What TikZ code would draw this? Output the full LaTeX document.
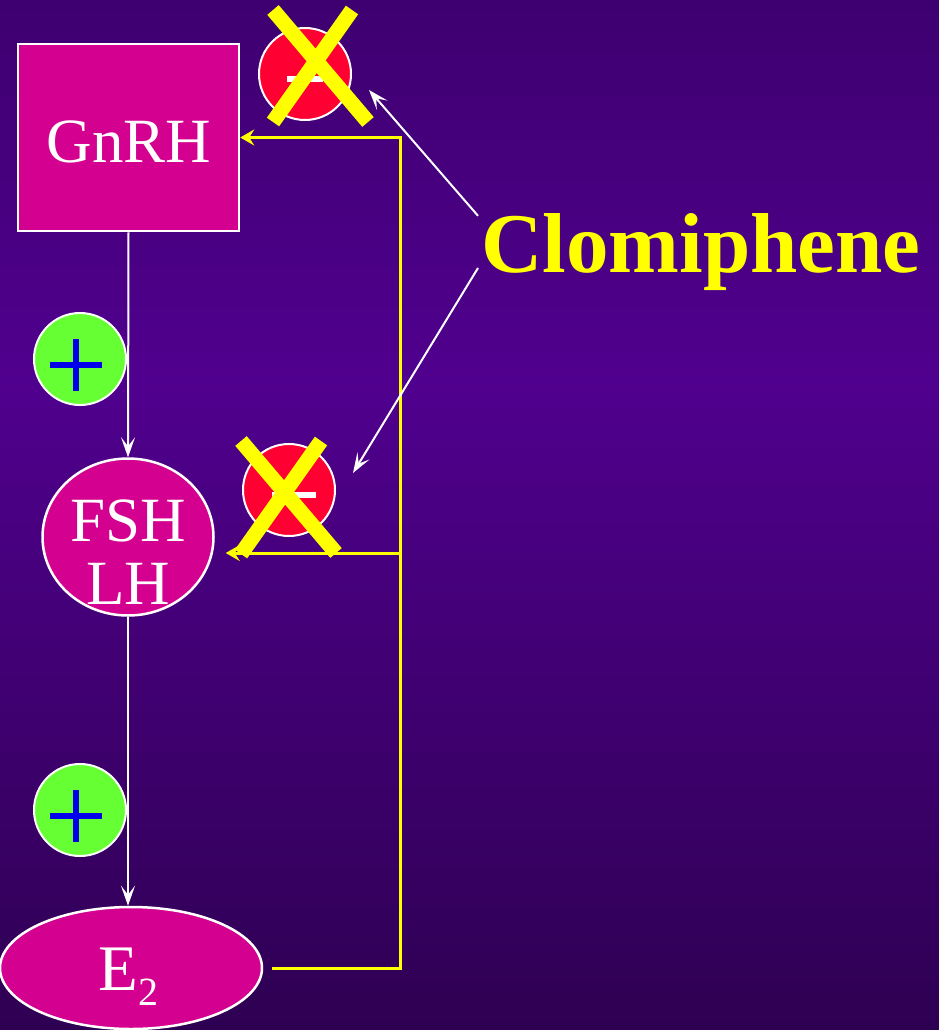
\documentclass[tikz,border=0pt]{standalone}
\usepackage{fontspec}
\setmainfont{Liberation Serif}
\usetikzlibrary{shapes.geometric,arrows.meta}
\definecolor{bgtop}{RGB}{62,0,112}
\definecolor{bgmid}{RGB}{80,0,142}
\definecolor{bgbot}{RGB}{46,0,82}
\definecolor{hormone}{RGB}{212,0,143}
\definecolor{negred}{RGB}{255,0,51}
\definecolor{posgreen}{RGB}{102,255,51}
\definecolor{plusblue}{RGB}{0,0,235}
\definecolor{fbyellow}{RGB}{255,255,0}
\begin{document}
\begin{tikzpicture}[x=1pt,y=-1pt,
  hormonebox/.style={draw=white, line width=2.5pt, fill=hormone, inner sep=0pt},
  hormonetext/.style={text=white, inner sep=0pt},
  signcircle/.style={circle, draw=white, line width=2pt, minimum size=92pt, inner sep=0pt},
  wline/.style={draw=white, line width=2pt, -{Stealth[length=20pt,width=14pt,inset=9pt]}},
  yline/.style={draw=fbyellow, line width=3pt, line join=miter},
  yarrow/.style={yline, -{Stealth[length=14pt,width=16pt,inset=5pt]}},
  crossbar/.style={draw=fbyellow, line width=15pt},
  minusbar/.style={draw=white, line width=6pt},
  plusbar/.style={draw=plusblue, line width=6pt}]
\useasboundingbox (0,0) rectangle (939,1030);
\shade[top color=bgtop,bottom color=bgmid] (0,0) rectangle (939,382);
\shade[top color=bgmid,bottom color=bgbot] (0,380) rectangle (939,1030);

% hormone nodes
\node[hormonebox, rectangle, minimum width=221pt, minimum height=187pt] (gnrh) at (128.5,137.5) {};
\node[hormonetext, anchor=base, font=\fontsize{63}{63}\selectfont] (gnrhtxt) at (129,162) {GnRH};
\node[hormonebox, ellipse, minimum width=171pt, minimum height=157pt] (fsh) at (128,537) {};
\node[hormonetext, align=center, font=\fontsize{63}{63}\selectfont] (fshtxt) at (128,552) {FSH\\LH};
\node[hormonebox, ellipse, minimum width=262pt, minimum height=122pt] (e2) at (131,968) {};
\node[hormonetext, anchor=base, font=\fontsize{65}{65}\selectfont] (e2txt) at (128.5,990) {E\raisebox{-15pt}{\fontsize{40}{40}\selectfont 2}};

% stimulation signs
\node[signcircle, fill=posgreen] (pos1) at (80,359) {};
\draw[plusbar] (50,365) -- (102,365) (76,339) -- (76,391);
\node[signcircle, fill=posgreen] (pos2) at (80,810) {};
\draw[plusbar] (50,816) -- (102,816) (76,790) -- (76,842);

% stimulation arrows
\draw[wline] (gnrh.south) -- (fsh.north);
\draw[wline] (fsh.south) -- (fsh.south |- e2.north);

% feedback
\coordinate (j2) at (400,137.5);
\coordinate (j3) at (400,553);
\draw[yarrow] ([xshift=9pt]e2.east) -| (j2) -- (gnrh.east);
\draw[yarrow, shorten >=11pt] (j3) -- (j3 -| fsh.east);

% inhibition signs
\node[signcircle, fill=negred] (neg1) at (305,74) {};
\draw[minusbar] (287,79) -- (323,79);
\node[signcircle, fill=negred] (neg2) at (289,490) {};
\draw[minusbar] (272,495) -- (316,495);
\draw[crossbar] (273,10) -- (368,122) (352,10) -- (273,122);
\draw[crossbar] (241,441) -- (336,553) (321,441) -- (241,554);

% clomiphene
\node[anchor=base west, inner sep=0pt, text=fbyellow, font=\bfseries\fontsize{85}{85}\selectfont] (clo) at (481,272) {Clomiphene};
\coordinate (t1) at (369,90);
\coordinate (t2) at (353,473);
\draw[wline] ([shift={(-3,3)}]clo.north west) -- (t1);
\draw[wline] ([shift={(-3,-4)}]clo.base west) -- (t2);
\end{tikzpicture}
\end{document}
